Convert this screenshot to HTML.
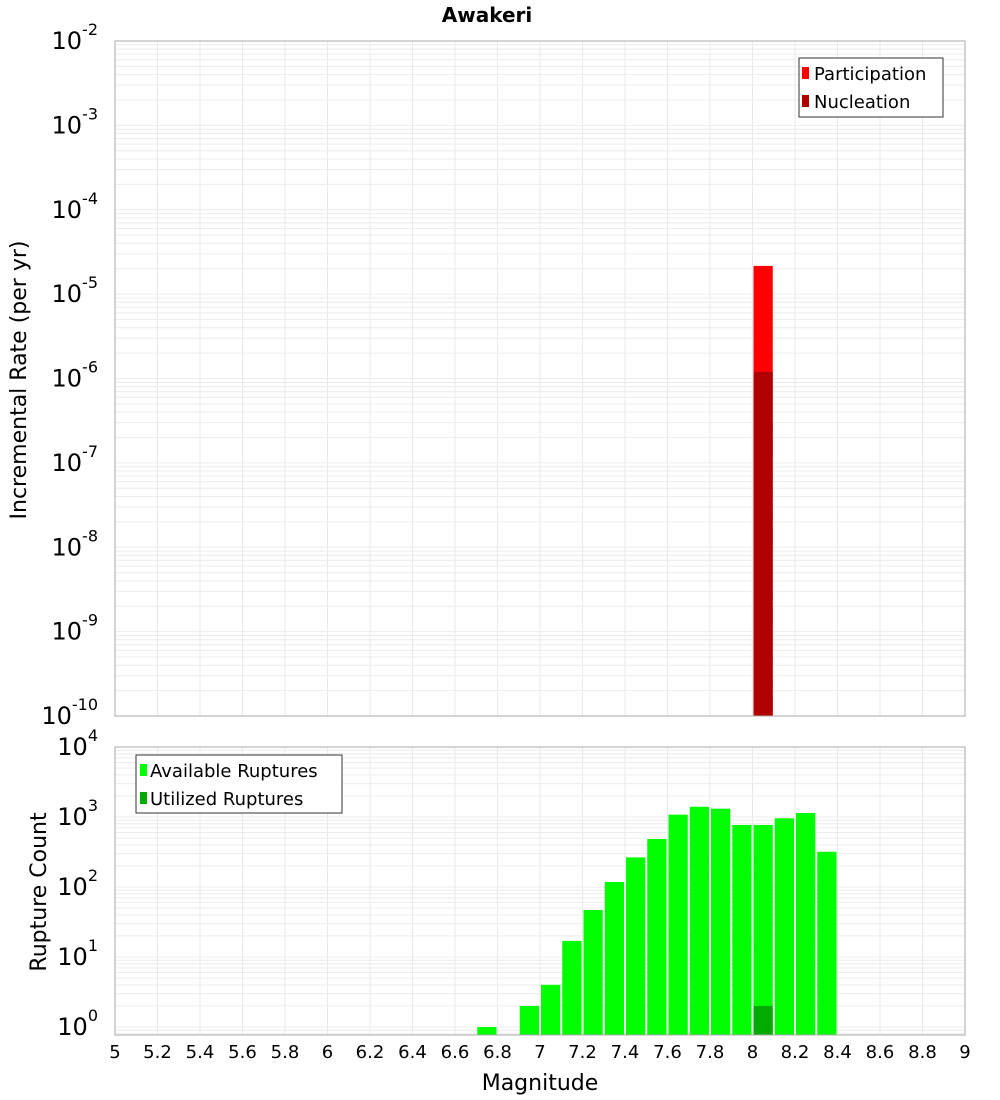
<!DOCTYPE html>
<html><head><meta charset="utf-8"><style>
body{margin:0;background:#fff;}
svg{display:block;font-family:"DejaVu Sans","Liberation Sans",sans-serif;}
</style></head><body>
<svg id="chart" width="1000" height="1100" viewBox="0 0 1000 1100" xmlns="http://www.w3.org/2000/svg">
<text x="487" y="22" text-anchor="middle" font-size="20" font-weight="bold">Awakeri</text>
<text transform="translate(26,380) rotate(-90)" text-anchor="middle" font-size="22">Incremental Rate (per yr)</text>
<text transform="translate(46,892) rotate(-90)" text-anchor="middle" font-size="22">Rupture Count</text>
<text x="540" y="1090" text-anchor="middle" font-size="22">Magnitude</text>
<g id="grid"></g><g id="bars"></g><g id="axes"></g>
<g>
<rect x="799" y="58" width="144" height="59" fill="#fff" stroke="#333" stroke-width="1"/>
<rect x="802" y="67" width="7" height="12" fill="#ff0000"/>
<text x="814" y="80" font-size="18">Participation</text>
<rect x="802" y="95" width="7" height="12" fill="#b00000"/>
<text x="814" y="108" font-size="18">Nucleation</text>
</g>
<g>
<rect x="136" y="755" width="206" height="58" fill="#fff" stroke="#333" stroke-width="1"/>
<rect x="140" y="764" width="7" height="12" fill="#00ff00"/>
<text x="150" y="777" font-size="18">Available Ruptures</text>
<rect x="140" y="792" width="7" height="12" fill="#00aa00"/>
<text x="150" y="805" font-size="18">Utilized Ruptures</text>
</g>
</svg>
<script>
const binStarts=[6.7,6.9,7.0,7.1,7.2,7.3,7.4,7.5,7.6,7.7,7.8,7.9,8.0,8.1,8.2,8.3];
const availCounts=[1,2,4,17,47,118,265,485,1080,1400,1315,769,769,958,1140,319];
const utilBins=[8.0];
const utilCounts=[2];
const rateBins=[8.0];
const participationRates=[2.16e-5];
const nucleationRates=[1.2e-6];
const xTicks=[5,5.2,5.4,5.6,5.8,6,6.2,6.4,6.6,6.8,7,7.2,7.4,7.6,7.8,8,8.2,8.4,8.6,8.8,9];
const topExps=[-2,-3,-4,-5,-6,-7,-8,-9,-10];
const botExps=[4,3,2,1,0];

const NS="http://www.w3.org/2000/svg";
const L=115,R=965;
const T1=41,B1=716,T2=747,B2=1035;
const x=m=>L+(m-5)*(R-L)/4;
const yTop=v=>T1+(-2-Math.log10(v))*(B1-T1)/8;
const yBot=v=>T2+(4-Math.log10(v))*70;
function mk(tag,attrs,parent){const e=document.createElementNS(NS,tag);for(const k in attrs)e.setAttribute(k,attrs[k]);parent.appendChild(e);return e;}
const grid=document.getElementById('grid'),bars=document.getElementById('bars'),axes=document.getElementById('axes');

// grids
for(const t of xTicks){
  for(const [a,b] of [[T1,B1],[T2,B2]]){
    const l=mk('line',{x1:x(t),x2:x(t),y1:a,y2:b,stroke:'#e8e8e8','stroke-width':1},grid);
    
    
  }
}
for(let e=-10;e<-2;e++)for(let k=1;k<10;k++){
  const y=yTop(k*Math.pow(10,e));
  const l=mk('line',{x1:L,x2:R,y1:y,y2:y,stroke:'#ececec','stroke-width':1},grid);
  
  
}
for(let e=-1;e<4;e++)for(let k=1;k<10;k++){
  const y=yBot(k*Math.pow(10,e));
  if(y<T2||y>B2)continue;
  const l=mk('line',{x1:L,x2:R,y1:y,y2:y,stroke:'#ececec','stroke-width':1},grid);
  
  
}
// bars
const bw=(x(5.1)-x(5));
participationRates.forEach((v,i)=>{
  const r=mk('rect',{x:x(rateBins[i])+1,y:yTop(v),width:bw-2,height:B1-yTop(v),fill:'#ff0000'},bars);
  
  
});
nucleationRates.forEach((v,i)=>{
  const r=mk('rect',{x:x(rateBins[i])+1,y:yTop(v),width:bw-2,height:B1-yTop(v),fill:'#b00000'},bars);
  
  
});
availCounts.forEach((v,i)=>{
  const r=mk('rect',{x:x(binStarts[i])+1,y:yBot(v),width:bw-2,height:B2-yBot(v),fill:'#00ff00'},bars);
  
  
});
utilCounts.forEach((v,i)=>{
  const r=mk('rect',{x:x(utilBins[i])+1,y:yBot(v),width:bw-2,height:B2-yBot(v),fill:'#00aa00'},bars);
  
  
});
// frames
for(const [a,b,n] of [[T1,B1,'top-plot-frame'],[T2,B2,'bottom-plot-frame']]){
  const r=mk('rect',{x:L,y:a,width:R-L,height:b-a,fill:'none',stroke:'#aaa','stroke-width':1},axes);
  
  
}
// tick labels
for(const t of xTicks){
  const tx=mk('text',{x:x(t),y:1058,'text-anchor':'middle','font-size':18},axes);
  tx.textContent=String(t);
  
  
}
function yLabel(e,y,name){
  const tx=mk('text',{x:98,y:y+8,'text-anchor':'end','font-size':24},axes);
  
  
  tx.appendChild(document.createTextNode('10'));
  const s=mk('tspan',{'font-size':16,dy:-14},tx);
  s.textContent=String(e);
}
topExps.forEach(e=>yLabel(e,yTop(Math.pow(10,e)),'top-y-tick-label'));
botExps.forEach(e=>yLabel(e,yBot(Math.pow(10,e)),'bottom-y-tick-label'));
</script>
</body></html>
